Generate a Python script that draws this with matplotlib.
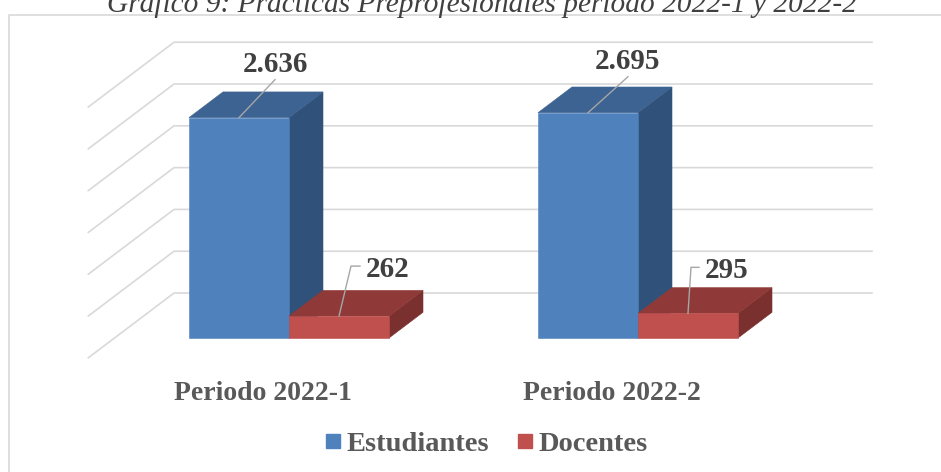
import matplotlib
matplotlib.use("Agg")
import matplotlib.pyplot as plt
from matplotlib.patches import Polygon
from matplotlib.lines import Line2D

# data
periods = ["Periodo 2022-1", "Periodo 2022-2"]
series = ["Estudiantes", "Docentes"]
estudiantes = [2636, 2695]
docentes = [262, 295]
grid_values = [0, 500, 1000, 1500, 2000, 2500, 3000]
title = "Gráfico 9: Prácticas Preprofesionales período 2022-1 y 2022-2"

# colours: front, top, side
blue = ("#4F81BD", "#3C6391", "#30527A")
red = ("#C0504D", "#8F3A38", "#7A302E")
grid_col = "#D9D9D9"
serif = ["Liberation Serif", "DejaVu Serif"]

W, H = 941, 472
fig = plt.figure(figsize=(W / 100, H / 100), dpi=100)
ax = fig.add_axes([0, 0, 1, 1])
ax.axis("off")

# pixel scale of the layout
PX_CAT = 349.0      # px per category step
PX_VAL = 0.0836     # px per unit
X0, BASE = 289.0, 338.0
ax.set_xlim(-X0 / PX_CAT, (W - X0) / PX_CAT)
ax.set_ylim((BASE - H) / PX_VAL, BASE / PX_VAL)

# depth projection (one bar depth)
DX = 34 / PX_CAT
DV = 25.7 / PX_VAL
WALL_D, FRONT_D = 1.75, -0.77
bw = 100 / PX_CAT


def proj(x, v, d):
    return (x + d * DX, v + d * DV)


# back wall gridlines and side wall diagonals
for g in grid_values:
    a = proj(-0.5, g, WALL_D)
    b = proj(1.5, g, WALL_D)
    c = proj(-0.5, g, FRONT_D)
    ax.plot([c[0], a[0], b[0]], [c[1], a[1], b[1]], color=grid_col, lw=1.2, zorder=1)


def bar3d(x, w, v, cols):
    front = [proj(x, 0, 0), proj(x + w, 0, 0), proj(x + w, v, 0), proj(x, v, 0)]
    top = [proj(x, v, 0), proj(x + w, v, 0), proj(x + w, v, 1), proj(x, v, 1)]
    side = [proj(x + w, 0, 0), proj(x + w, 0, 1), proj(x + w, v, 1), proj(x + w, v, 0)]
    for pts, c in zip([side, top, front], [cols[2], cols[1], cols[0]]):
        ax.add_patch(Polygon(pts, closed=True, facecolor=c, edgecolor=c, lw=0.4, zorder=2))


def px(dx, dy):
    return dx / PX_CAT, dy / PX_VAL


def fmt(v):
    return f"{v:,}".replace(",", ".")


# label offsets in px (right, up) from the top-front centre
blue_off = [(36, 38), (40, 36)]
red_off = [(12, 50, 21, 27), (3, 46, 11, 17)]

for i in range(len(periods)):
    bar3d(i - bw, bw, estudiantes[i], blue)
    bar3d(i, bw, docentes[i], red)

    # blue label
    cx, cy = i - bw / 2, estudiantes[i]
    ox, oy = px(*blue_off[i])
    ax.plot([cx, cx + ox], [cy, cy + oy], color="#A6A6A6", lw=1, zorder=3)
    ax.text(cx + ox, cy + oy + 8 / PX_VAL, fmt(estudiantes[i]), ha="center", va="baseline",
            fontsize=21, fontweight="bold", color="#404040", family=serif, zorder=4)

    # red label
    cx, cy = i + bw / 2, docentes[i]
    bx, by, ex, tx = red_off[i]
    ax.plot([cx, cx + bx / PX_CAT, cx + ex / PX_CAT], [cy, cy + by / PX_VAL, cy + by / PX_VAL],
            color="#A6A6A6", lw=1, zorder=3)
    ax.text(cx + tx / PX_CAT, cy + (by - 11) / PX_VAL, fmt(docentes[i]), ha="left", va="baseline",
            fontsize=21, fontweight="bold", color="#404040", family=serif, zorder=4)

    # category label
    ax.text(i - 0.075, -(400 - BASE) / PX_VAL, periods[i], ha="center", va="baseline",
            fontsize=20, fontweight="bold", color="#595959", family=serif)

# chart border
fig.add_artist(Line2D([8.5 / W, 8.5 / W, 1], [0, 1 - 15 / H, 1 - 15 / H],
                      transform=fig.transFigure, color=grid_col, lw=1.2))

# title (partly cut at the top, as in the source)
fig.text(482 / W, 1 - 12 / H, title, ha="center", va="baseline", fontsize=21.2,
         style="italic", color="#404040", family=serif)

handles = [Line2D([], [], marker="s", ls="", markersize=10.5, color=blue[0]),
           Line2D([], [], marker="s", ls="", markersize=10.5, color=red[0])]
fig.legend(handles, series, loc="center", bbox_to_anchor=(487 / W, 1 - 444 / H), ncol=2,
           frameon=False, handlelength=0.5, handletextpad=0.22, columnspacing=1.0,
           prop={"family": serif, "weight": "bold", "size": 20.5}, labelcolor="#595959")

fig.savefig("out.png", dpi=100)
